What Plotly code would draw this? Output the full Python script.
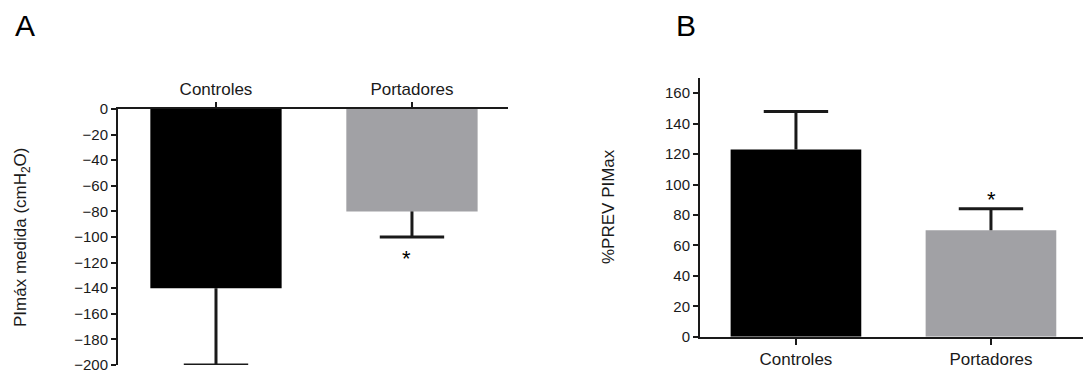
import plotly.graph_objects as go

# ---- data ----
categories = ["Controles", "Portadores"]
pimax_medida = [-140, -80]          # panel A bar values (cmH2O)
pimax_medida_err = [-60, -20]       # panel A one-sided error (downwards)
prev_pimax = [123, 70]              # panel B bar values (%)
prev_pimax_err = [25, 14]           # panel B one-sided error (upwards)
yticks_a = list(range(0, -201, -20))
yticks_b = list(range(0, 161, 20))
bar_colors = ["#000000", "#a1a1a5"]
signif_a = [False, True]
signif_b = [False, True]

W, H = 1083, 374
FONT = "Liberation Sans, Arial, sans-serif"
AX = "#1a1a1a"


def fx(p):
    return p / W


def fy(p):
    return 1 - p / H


fig = go.Figure()


def add_panel(xa, ya, vals, errs):
    fig.add_trace(go.Bar(
        x=categories, y=vals, width=0.67,
        marker=dict(color=bar_colors, line=dict(width=0)),
        xaxis=xa, yaxis=ya, showlegend=False, hoverinfo="skip"))
    sx, sy = [], []
    for c, v, e in zip(categories, vals, errs):
        sx += [c, c, None]
        sy += [v, v + e, None]
    fig.add_trace(go.Scatter(
        x=sx, y=sy, mode="lines", line=dict(color=AX, width=3),
        xaxis=xa, yaxis=ya, showlegend=False, hoverinfo="skip"))
    fig.add_trace(go.Scatter(
        x=categories, y=[v + e for v, e in zip(vals, errs)], mode="markers",
        marker=dict(symbol="line-ew", size=46, line=dict(color=AX, width=3)),
        xaxis=xa, yaxis=ya, showlegend=False, hoverinfo="skip"))


add_panel("x", "y", pimax_medida, pimax_medida_err)
add_panel("x2", "y2", prev_pimax, prev_pimax_err)

tickfont = dict(family=FONT, size=15, color="#1a1a1a")
catfont = dict(family=FONT, size=17, color="#1a1a1a")

common = dict(showline=True, linecolor=AX, linewidth=2, ticks="outside",
              tickwidth=2, tickcolor=AX, showgrid=False, zeroline=False,
              automargin=False, fixedrange=True)

fig.update_layout(
    width=W, height=H,
    margin=dict(l=0, r=0, t=0, b=0, pad=0),
    paper_bgcolor="white", plot_bgcolor="white",
    xaxis=dict(domain=[fx(118), fx(508)], anchor="y", side="top",
               type="category", range=[-0.5, 1.49], ticklen=5,
               tickfont=catfont, **common),
    yaxis=dict(domain=[fy(365), fy(109)], anchor="x", range=[-200, 0],
               tickvals=yticks_a, ticklen=5, tickfont=tickfont, **common),
    xaxis2=dict(domain=[fx(700), 1.0], anchor="y2",
                type="category", range=[-0.492, 1.472], ticklen=6,
                tickfont=catfont, **common),
    yaxis2=dict(domain=[fy(336.7), fy(78)], anchor="x2", range=[0, 170],
                tickvals=yticks_b, ticklen=5, tickfont=tickfont, **common),
)

ann = []
ann.append(dict(text="A", x=fx(25), y=fy(25), xref="paper", yref="paper",
                xanchor="center", yanchor="middle",
                showarrow=False, font=dict(family=FONT, size=30, color="black")))
ann.append(dict(text="B", x=fx(686), y=fy(25), xref="paper", yref="paper",
                xanchor="center", yanchor="middle",
                showarrow=False, font=dict(family=FONT, size=30, color="black")))
ann.append(dict(text="PImáx medida (cmH<sub>2</sub>O)", x=fx(22), y=fy(237),
                xref="paper", yref="paper", textangle=-90, showarrow=False,
                xanchor="center", yanchor="middle",
                font=dict(family=FONT, size=17, color="#1a1a1a")))
ann.append(dict(text="%PREV PIMax", x=fx(608), y=fy(207),
                xref="paper", yref="paper", textangle=-90, showarrow=False,
                xanchor="center", yanchor="middle",
                font=dict(family=FONT, size=17, color="#1a1a1a")))
for c, v, e, s in zip(categories, pimax_medida, pimax_medida_err, signif_a):
    if s:
        ann.append(dict(text="*", x=c, y=v + e, xref="x", yref="y",
                        showarrow=False, yshift=-21, xshift=-5,
                        font=dict(family=FONT, size=22, color="black")))
for c, v, e, s in zip(categories, prev_pimax, prev_pimax_err, signif_b):
    if s:
        ann.append(dict(text="*", x=c, y=v + e, xref="x2", yref="y2",
                        showarrow=False, yshift=9, xshift=1,
                        font=dict(family=FONT, size=22, color="black")))
fig.update_layout(annotations=ann)

fig.write_html("out.html", config=dict(displayModeBar=False),
               post_script="document.body.style.margin='0';"
                           "document.body.style.overflow='hidden';")
